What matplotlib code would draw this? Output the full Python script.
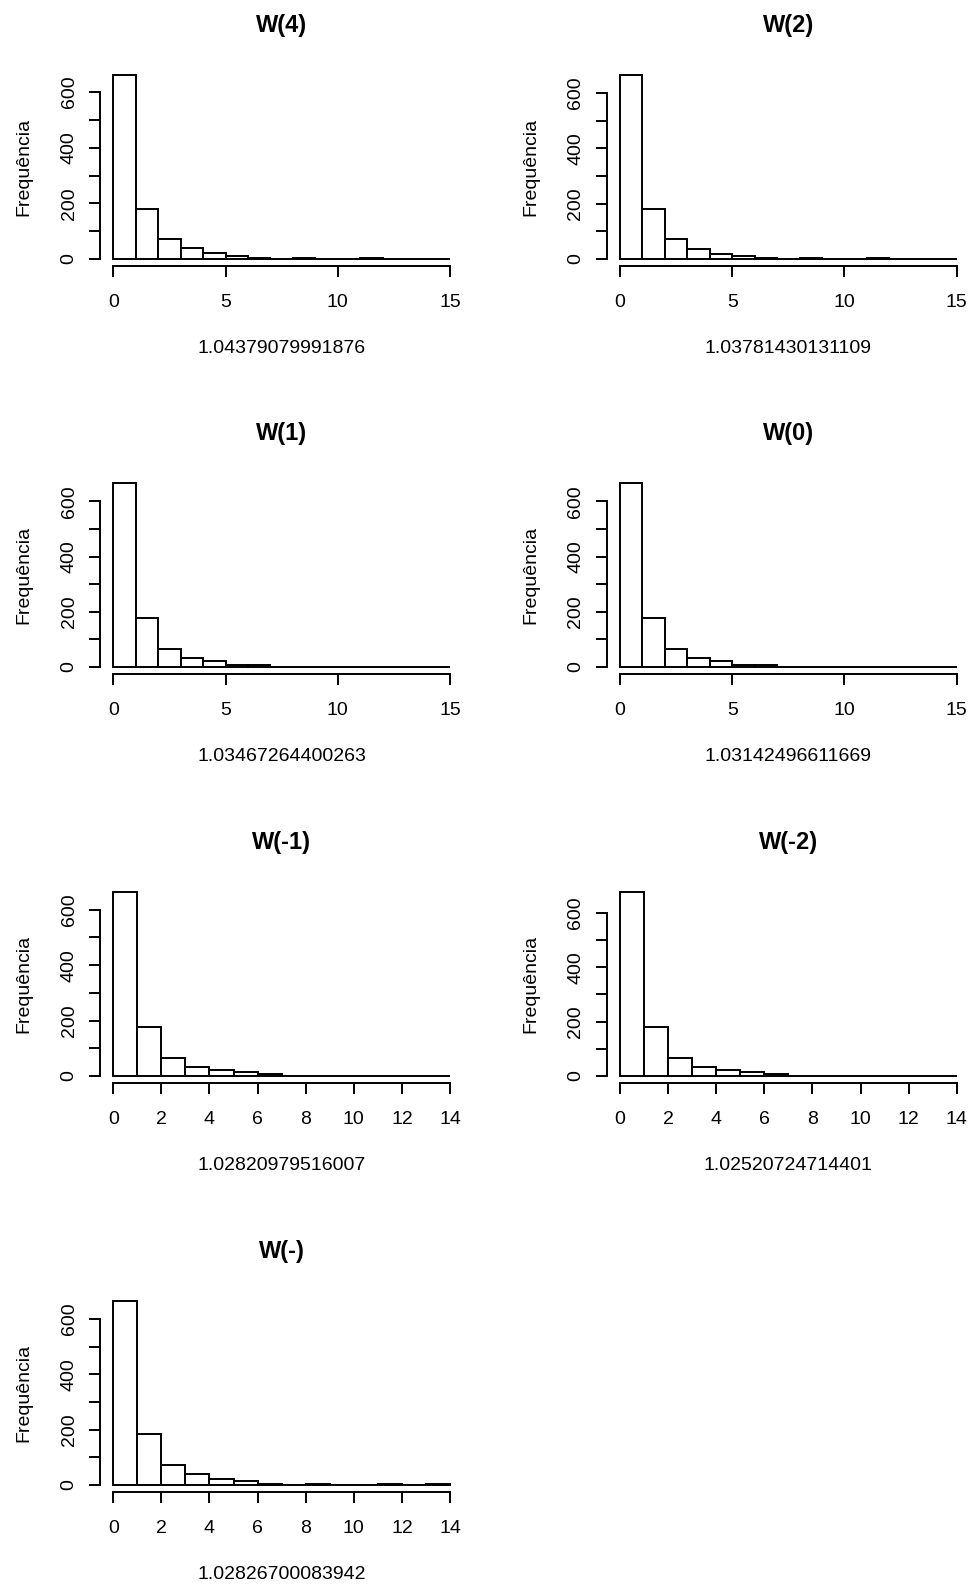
import numpy as np
import matplotlib
matplotlib.use('Agg')
import matplotlib.pyplot as plt

plt.rcParams['font.family'] = ['Liberation Sans', 'DejaVu Sans']

# titulos e rotulos de cada histograma
titulos = ['W(4)', 'W(2)', 'W(1)', 'W(0)', 'W(-1)', 'W(-2)', 'W(-)']
rotulos = ['1.04379079991876', '1.03781430131109', '1.03467264400263',
           '1.03142496611669', '1.02820979516007', '1.02520724714401',
           '1.02826700083942']

# contagens por classe de largura 1, a partir de 0
cont_w4 = [662, 181, 72, 38, 20, 12, 5, 0, 4, 0, 0, 4, 0, 0, 0]
cont_w2 = [666, 182, 71, 37, 19, 12, 4, 0, 4, 0, 0, 4, 0, 0, 0]
cont_w1 = [667, 179, 67, 33, 22, 7, 7, 0, 0, 0, 0, 0, 0, 0, 1]
cont_w0 = [667, 179, 66, 33, 22, 6, 6, 0, 0, 0, 0, 0, 0, 0, 1]
cont_wm1 = [665, 177, 66, 34, 22, 14, 7, 0, 0, 0, 0, 0, 0, 1]
cont_wm2 = [678, 180, 67, 34, 22, 15, 7, 0, 0, 0, 0, 0, 0, 1]
cont_wm = [666, 183, 72, 40, 20, 13, 5, 0, 4, 0, 0, 4, 0, 4]

contagens = [cont_w4, cont_w2, cont_w1, cont_w0, cont_wm1, cont_wm2, cont_wm]

W, H = 969, 1585
fig = plt.figure(figsize=(W / 100, H / 100), dpi=100)

# posicao das regioes de plotagem (pixels)
col_esq = [99.8, 606.5]
lin_base = [266.4, 674.4, 1083.4, 1492.4]
larg, alt = 363.7, 199

for i, (titulo, rotulo, cont) in enumerate(zip(titulos, rotulos, contagens)):
    lin, col = divmod(i, 2)
    ax = fig.add_axes([col_esq[col] / W, 1 - lin_base[lin] / H, larg / W, alt / H])
    cont = np.array(cont)
    bordas = np.arange(len(cont) + 1)
    ax.bar(bordas[:-1], cont, width=1, align='edge', facecolor='white',
           edgecolor='black', linewidth=1.4)

    xmax = bordas[-1]
    ax.set_xlim(-0.04 * xmax, 1.04 * xmax)
    ax.set_ylim(-0.04 * cont.max(), 1.04 * cont.max())

    passo = 5 if xmax == 15 else 2
    ax.set_xticks(np.arange(0, xmax + 1, passo))
    yt = np.arange(0, 601, 100)
    ax.set_yticks(yt)
    ax.set_yticklabels([str(v) if v % 200 == 0 else '' for v in yt],
                       rotation=90, va='center')

    for s in ['top', 'right']:
        ax.spines[s].set_visible(False)
    ax.spines['bottom'].set_bounds(0, xmax)
    ax.spines['left'].set_bounds(0, 600)
    for s in ['bottom', 'left']:
        ax.spines[s].set_linewidth(1.4)

    ax.tick_params(length=7.9, width=1.4, labelsize=14)
    ax.tick_params(axis='x', pad=12)
    ax.tick_params(axis='y', pad=8)

    ax.set_title(titulo, fontsize=17, fontweight='bold', pad=25.5)
    ax.annotate(rotulo, xy=(0.5, 0), xycoords='axes fraction',
                xytext=(0, -62.6), textcoords='offset points',
                ha='center', va='baseline', fontsize=14)
    ax.annotate('Frequência', xy=(0, 0.5), xycoords='axes fraction',
                xytext=(-51.5, 0), textcoords='offset points',
                rotation=90, rotation_mode='anchor',
                ha='center', va='baseline', fontsize=14)

fig.savefig('out.png', dpi=100)
